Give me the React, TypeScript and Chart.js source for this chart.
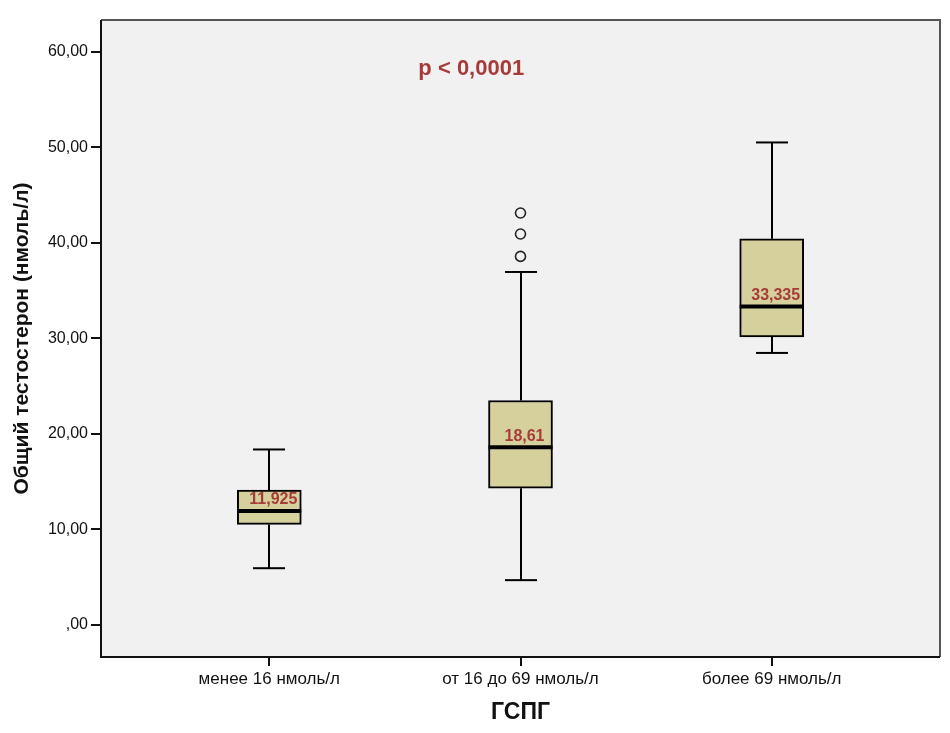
import React, { useEffect, useRef } from "react";
import { Chart, registerables } from "chart.js";

Chart.register(...registerables);

const categories = ["менее 16 нмоль/л", "от 16 до 69 нмоль/л", "более 69 нмоль/л"];
const whiskerLow = [5.95, 4.7, 28.47];
const q1 = [10.53, 14.32, 30.15];
const median = [11.925, 18.61, 33.335];
const q3 = [14.11, 23.49, 40.42];
const whiskerHigh = [18.37, 36.94, 50.49];
const outlierGroup = [1, 1, 1];
const outlierValue = [43.11, 40.91, 38.57];
const medianLabels = ["11,925", "18,61", "33,335"];
const yTicks = [0, 10, 20, 30, 40, 50, 60];
const pText = "p < 0,0001";
const yTitle = "Общий тестостерон (нмоль/л)";
const xTitle = "ГСПГ";

const FONT = "'Liberation Sans', Arial, sans-serif";
const BOX_WIDTH = 64;

const boxPlugin = {
  id: "boxExtras",
  beforeDraw(chart: any) {
    const { ctx, chartArea } = chart;
    ctx.save();
    ctx.fillStyle = "#f1f1f1";
    ctx.fillRect(chartArea.left, chartArea.top, chartArea.right - chartArea.left, chartArea.bottom - chartArea.top);
    ctx.restore();
  },
  beforeDatasetsDraw(chart: any) {
    const { ctx } = chart;
    const xs = chart.scales.x;
    const ys = chart.scales.y;
    ctx.save();
    ctx.strokeStyle = "#000";
    ctx.lineWidth = 2;
    for (let i = 0; i < categories.length; i++) {
      const cx = Math.round(xs.getPixelForValue(i));
      const capHalf = BOX_WIDTH / 4;
      const pairs: [number, number][] = [
        [q3[i], whiskerHigh[i]],
        [q1[i], whiskerLow[i]],
      ];
      for (const [a, b] of pairs) {
        const ya = ys.getPixelForValue(a);
        const yb = ys.getPixelForValue(b);
        ctx.beginPath();
        ctx.moveTo(cx, ya);
        ctx.lineTo(cx, yb);
        ctx.stroke();
        ctx.beginPath();
        ctx.moveTo(cx - capHalf, yb);
        ctx.lineTo(cx + capHalf, yb);
        ctx.stroke();
      }
    }
    ctx.restore();
  },
  afterDatasetsDraw(chart: any) {
    const { ctx, chartArea } = chart;
    const xs = chart.scales.x;
    const ys = chart.scales.y;
    ctx.save();
    for (let i = 0; i < categories.length; i++) {
      const cx = xs.getPixelForValue(i);
      const my = ys.getPixelForValue(median[i]);
      ctx.strokeStyle = "#000";
      ctx.lineWidth = 4;
      ctx.beginPath();
      ctx.moveTo(cx - BOX_WIDTH / 2, my);
      ctx.lineTo(cx + BOX_WIDTH / 2, my);
      ctx.stroke();
      ctx.fillStyle = "#a63c3a";
      ctx.font = `bold 16px ${FONT}`;
      ctx.textAlign = "center";
      ctx.textBaseline = "middle";
      ctx.fillText(medianLabels[i], cx + 4, my - 11);
    }
    // p-value annotation
    ctx.fillStyle = "#a63c3a";
    ctx.font = `bold 22px ${FONT}`;
    ctx.textAlign = "center";
    ctx.textBaseline = "middle";
    ctx.fillText(pText, xs.getPixelForValue(0.804), ys.getPixelForValue(58.2));
    // frame
    ctx.lineWidth = 2;
    ctx.strokeStyle = "#555";
    ctx.beginPath();
    ctx.moveTo(chartArea.left, chartArea.top);
    ctx.lineTo(chartArea.right, chartArea.top);
    ctx.lineTo(chartArea.right, chartArea.bottom);
    ctx.stroke();
    ctx.strokeStyle = "#111";
    ctx.beginPath();
    ctx.moveTo(chartArea.left, chartArea.top);
    ctx.lineTo(chartArea.left, chartArea.bottom);
    ctx.lineTo(chartArea.right, chartArea.bottom);
    ctx.stroke();
    ctx.restore();
  },
};

export default function App() {
  const ref = useRef<HTMLCanvasElement>(null);
  useEffect(() => {
    if (!ref.current) return;
    const chart = new Chart(ref.current, {
      type: "bar",
      data: {
        datasets: [
          {
            type: "bar",
            data: categories.map((_, i) => ({ x: i, y: [q1[i], q3[i]] })) as any,
            backgroundColor: "#d5d09c",
            borderColor: "#000",
            borderWidth: 2,
            borderSkipped: false,
            barThickness: BOX_WIDTH,
            order: 2,
          } as any,
          {
            type: "scatter",
            data: outlierValue.map((v, i) => ({ x: outlierGroup[i], y: v })),
            pointStyle: "circle",
            pointRadius: 5,
            pointBorderWidth: 1.6,
            pointBorderColor: "#222",
            pointBackgroundColor: "rgba(0,0,0,0)",
            showLine: false,
            order: 1,
          } as any,
        ],
      },
      options: {
        responsive: false,
        animation: false,
        events: [],
        layout: { padding: { top: 20, right: 10, left: 0, bottom: 0 } },
        plugins: { legend: { display: false }, tooltip: { enabled: false } },
        scales: {
          x: {
            type: "linear",
            offset: false,
            min: -0.67,
            max: 2.67,
            afterBuildTicks: (s: any) => {
              s.ticks = categories.map((_, i) => ({ value: i }));
            },
            afterFit: (s: any) => {
              s.height = 76;
            },
            ticks: {
              callback: (v: any) => categories[v as number] ?? "",
              color: "#111",
              font: { family: FONT, size: 17 },
              padding: 3,
              maxRotation: 0,
              autoSkip: false,
            },
            grid: { display: true, offset: false, drawOnChartArea: false, drawTicks: true, tickLength: 9, color: "#111", lineWidth: 2 },
            border: { display: false },
            title: {
              display: true,
              text: xTitle,
              color: "#111",
              font: { family: FONT, size: 23, weight: "bold" },
              padding: { top: 0, bottom: 7 },
            },
          },
          y: {
            type: "linear",
            min: -3.34,
            max: 63.3,
            afterBuildTicks: (s: any) => {
              s.ticks = yTicks.map((v) => ({ value: v }));
            },
            afterFit: (s: any) => {
              s.width = 101;
            },
            ticks: {
              callback: (v: any) => (v === 0 ? ",00" : Number(v).toFixed(2).replace(".", ",")),
              color: "#111",
              font: { family: FONT, size: 16 },
              padding: 3,
            },
            grid: { display: true, drawOnChartArea: false, drawTicks: true, tickLength: 10, color: "#111", lineWidth: 2 },
            border: { display: false },
            title: {
              display: true,
              text: yTitle,
              color: "#111",
              font: { family: FONT, size: 21, weight: "bold" },
              padding: { top: 10, bottom: 0 },
            },
          },
        },
      },
      plugins: [boxPlugin],
    });
    return () => chart.destroy();
  }, []);
  return (
    <div style={{ position: "absolute", left: 0, top: 0, width: 950, height: 733, background: "#fff" }}>
      <canvas ref={ref} width={950} height={733} style={{ display: "block" }} />
    </div>
  );
}
